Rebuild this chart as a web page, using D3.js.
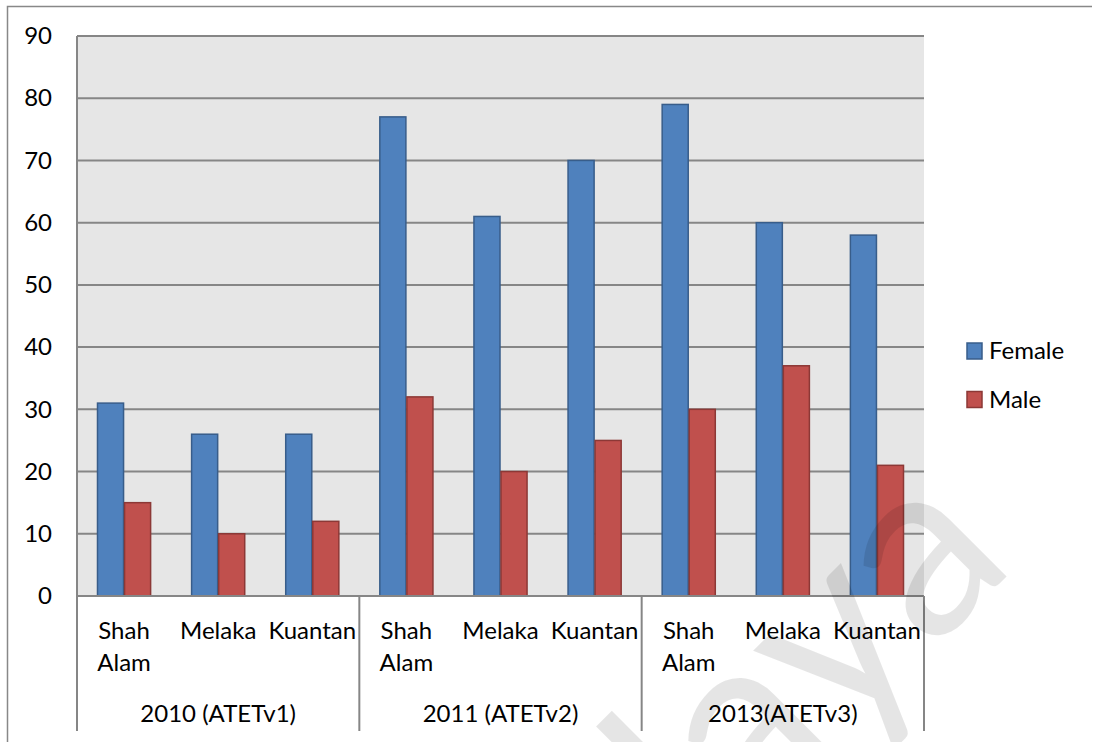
<!DOCTYPE html>
<html><head><meta charset="utf-8">
<script src="https://cdn.jsdelivr.net/npm/d3@7"></script>
<style>body{margin:0;background:#fff}svg{display:block}</style>
</head><body>
<svg id="c" width="1093" height="742"></svg>
<script>
const groups = ["2010 (ATETv1)", "2011 (ATETv2)", "2013(ATETv3)"];
const sites = ["Shah Alam", "Melaka", "Kuantan"];
const female = [31, 26, 26, 77, 61, 70, 79, 60, 58];
const male = [15, 10, 12, 32, 20, 25, 30, 37, 21];
const seriesNames = ["Female", "Male"];
const yTicks = [0, 10, 20, 30, 40, 50, 60, 70, 80, 90];

const colors = {Female: "#4F81BD", Male: "#C0504D"};
const strokes = {Female: "#385D8A", Male: "#8C3836"};
const font = "Lato, 'Open Sans', sans-serif";

const svg = d3.select("#c");
const L = 77, R = 924, T = 36, B = 596;

const cats = [];
groups.forEach((g, gi) => sites.forEach((s, si) => cats.push({id: gi + "_" + si, g, s, i: gi * 3 + si})));

const x = d3.scaleBand().domain(cats.map(d => d.id)).range([L, R]).paddingInner(0.425).paddingOuter(0.2125);
const xs = d3.scaleBand().domain(seriesNames).range([0, x.bandwidth()]);
const y = d3.scaleLinear().domain([0, 90]).range([B, T]);

// outer border
svg.append("path").attr("d", `M7.5,742 V6.5 H1092`).attr("fill", "none").attr("stroke", "#888").attr("stroke-width", 1.5);

// plot bg
svg.append("rect").attr("x", L).attr("y", T).attr("width", R - L).attr("height", B - T).attr("fill", "#E6E6E6");

// gridlines
svg.append("g").selectAll("line").data(yTicks.filter(t => t > 0)).join("line")
  .attr("x1", L).attr("x2", R).attr("y1", d => y(d)).attr("y2", d => y(d))
  .attr("stroke", "#868686").attr("stroke-width", 2);

// y-axis line
svg.append("line").attr("x1", L).attr("x2", L).attr("y1", T).attr("y2", B).attr("stroke", "#868686").attr("stroke-width", 2);

// y tick labels
const yAxis = d3.axisLeft(y).tickValues(yTicks).tickSize(0).tickPadding(25);
const ya = svg.append("g").attr("transform", `translate(${L},0)`).call(yAxis);
ya.select(".domain").remove();
ya.selectAll("text").attr("font-family", font).attr("font-size", 24).attr("fill", "#000");

// bars
const data = [];
cats.forEach(c => {
  data.push({c, s: "Female", v: female[c.i]});
  data.push({c, s: "Male", v: male[c.i]});
});
svg.append("g").selectAll("rect").data(data).join("rect")
  .attr("x", d => x(d.c.id) + xs(d.s) + 0.5)
  .attr("y", d => y(d.v))
  .attr("width", xs.bandwidth() - 1)
  .attr("height", d => B - y(d.v))
  .attr("fill", d => colors[d.s]).attr("stroke", d => strokes[d.s]).attr("stroke-width", 1.5);

// bottom axis line
svg.append("line").attr("x1", L).attr("x2", R).attr("y1", B).attr("y2", B).attr("stroke", "#868686").attr("stroke-width", 2);

// group separators
const step = (R - L) / groups.length;
svg.append("g").selectAll("line").data(d3.range(groups.length + 1)).join("line")
  .attr("x1", d => L + d * step).attr("x2", d => L + d * step)
  .attr("y1", B).attr("y2", 731).attr("stroke", "#868686").attr("stroke-width", 2);

// category labels
const lab = svg.append("g").attr("font-family", font).attr("font-size", 24).attr("fill", "#000");
cats.forEach(c => {
  const cx = x(c.id) + x.bandwidth() / 2;
  const words = c.s.split(" ");
  const t = lab.append("text").attr("x", cx).attr("y", 639).attr("text-anchor", "middle");
  if (words.length > 1) {
    t.append("tspan").attr("x", cx).attr("dy", 0).text(words[0]);
    t.append("tspan").attr("x", cx).attr("dy", 32).text(words.slice(1).join(" "));
  } else t.text(c.s);
});
groups.forEach((g, gi) => {
  lab.append("text").attr("x", L + (gi + 0.5) * step).attr("y", 722).attr("text-anchor", "middle").text(g);
});

// legend
const lg = svg.append("g").attr("font-family", font).attr("font-size", 24);
seriesNames.forEach((s, i) => {
  const yy = 351 + i * 48.5;
  lg.append("rect").attr("x", 967).attr("y", yy - 8).attr("width", 15).attr("height", 16)
    .attr("fill", colors[s]).attr("stroke", strokes[s]).attr("stroke-width", 1.5);
  lg.append("text").attr("x", 989).attr("y", yy + 8).text(s);
});

// watermark
svg.append("text").attr("transform", "translate(1018,565) rotate(-45)")
  .attr("text-anchor", "end").attr("font-family", font).attr("font-size", 250)
  .attr("fill", "#000").attr("fill-opacity", 0.1).text("Malaya");
</script>
</body></html>
